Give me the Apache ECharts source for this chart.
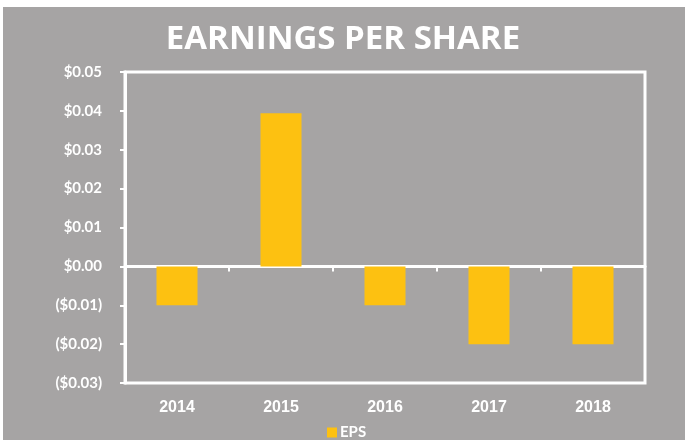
<!DOCTYPE html>
<html>
<head>
<meta charset="utf-8">
<script src="https://cdn.jsdelivr.net/npm/echarts@6/dist/echarts.min.js"></script>
<style>
  html, body { margin: 0; padding: 0; background: #fff; }
  #epsChart { width: 686px; height: 440px; }
</style>
</head>
<body>
<div id="epsChart"></div>
<script>
  // chart data
  var years = ['2014', '2015', '2016', '2017', '2018']
  var epsValues = [-0.01, 0.0394, -0.01, -0.02, -0.02]
  var yMin = -0.03
  var yMax = 0.05
  var yStep = 0.01
  var yTickLabels = ['($0.03)', '($0.02)', '($0.01)', '$0.00', '$0.01', '$0.02', '$0.03', '$0.04', '$0.05']

  var gray = '#a6a4a4'
  var yellow = '#fdc111'

  var epsChart = echarts.init(document.getElementById('epsChart'))
  epsChart.setOption({
    animation: false,
    backgroundColor: '#fff',
    graphic: [{
      type: 'rect',
      z: -10,
      shape: { x: 3, y: 7, width: 682, height: 433 },
      style: { fill: gray }
    }],
    title: {
      text: 'EARNINGS PER SHARE',
      left: 'center',
      top: 18,
      textStyle: {
        color: '#fff',
        fontFamily: 'Open Sans',
        fontWeight: 'bold',
        fontSize: 33
      }
    },
    legend: {
      left: 327,
      top: 425,
      padding: 0,
      itemWidth: 10,
      itemHeight: 10,
      itemGap: 10,
      icon: 'rect',
      textStyle: {
        color: '#fff',
        fontFamily: 'Lato',
        fontWeight: 'bold',
        fontSize: 15,
        padding: [0, 0, 0, -2]
      },
      data: ['EPS']
    },
    grid: {
      left: 125,
      right: 41,
      top: 72,
      bottom: 57,
      show: true,
      borderColor: '#fff',
      borderWidth: 3,
      backgroundColor: 'transparent'
    },
    xAxis: [{
      // labels along the bottom
      type: 'category',
      data: years,
      position: 'bottom',
      axisLine: { show: false, onZero: false },
      axisTick: { show: false },
      axisLabel: {
        color: '#fff',
        fontFamily: 'Liberation Sans',
        fontWeight: 'bold',
        fontSize: 16,
        margin: 17
      }
    }, {
      // white line through zero
      type: 'category',
      data: years,
      position: 'bottom',
      axisLine: {
        show: true,
        onZero: true,
        onZeroAxisIndex: 0,
        lineStyle: { color: '#fff', width: 3 }
      },
      axisTick: {
        show: true,
        length: 5,
        lineStyle: { color: '#fff', width: 2 }
      },
      axisLabel: { show: false }
    }],
    yAxis: {
      type: 'value',
      min: yMin,
      max: yMax,
      interval: yStep,
      splitLine: { show: false },
      axisLine: {
        show: true,
        onZero: false,
        lineStyle: { color: '#fff', width: 3 }
      },
      axisTick: {
        show: true,
        length: 5,
        lineStyle: { color: '#fff', width: 2 }
      },
      axisLabel: {
        color: '#fff',
        fontFamily: 'Lato',
        fontWeight: 'bold',
        fontSize: 15,
        margin: 23,
        formatter: function (v) {
          return yTickLabels[Math.round((v - yMin) / yStep)]
        }
      }
    },
    series: [{
      name: 'EPS',
      type: 'bar',
      xAxisIndex: 0,
      data: epsValues,
      barWidth: 41,
      itemStyle: { color: yellow }
    }]
  })
</script>
</body>
</html>
